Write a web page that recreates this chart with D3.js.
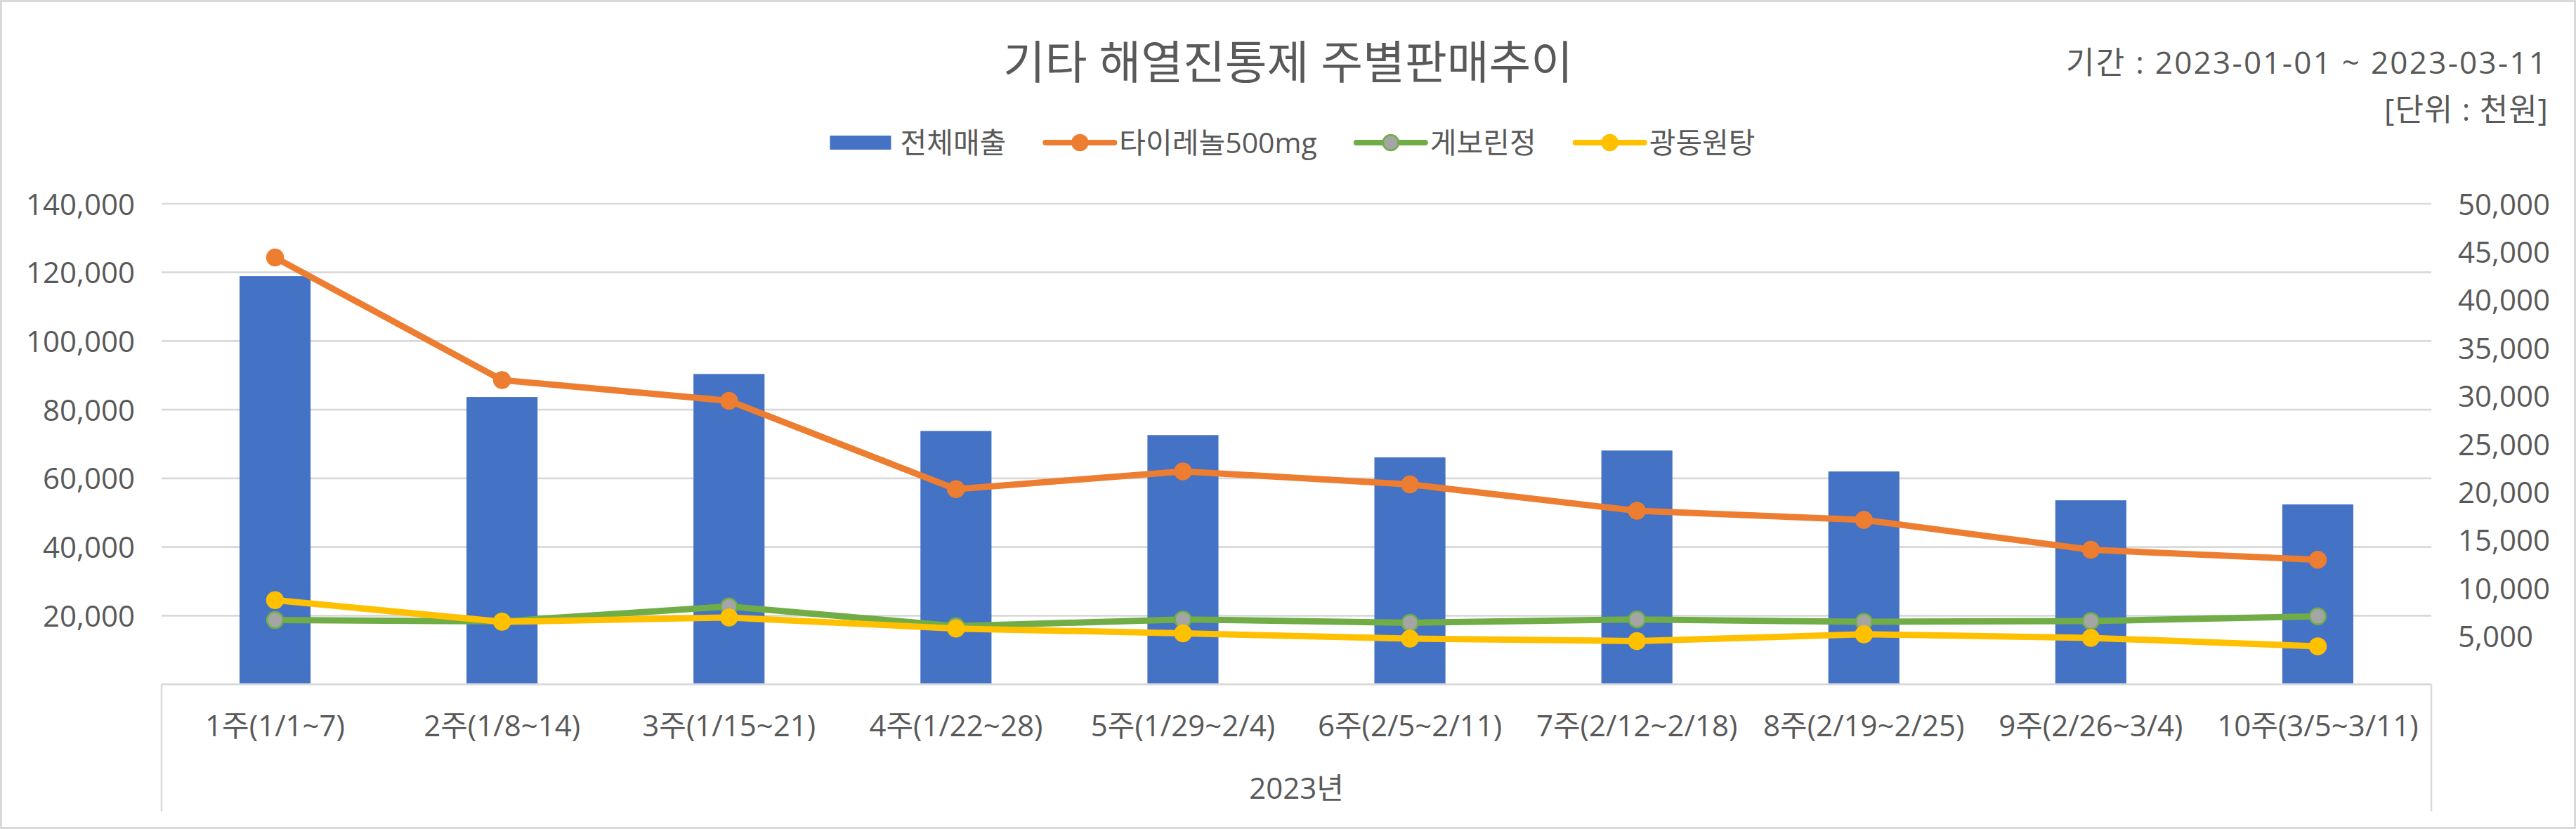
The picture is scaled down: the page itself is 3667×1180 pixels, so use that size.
<!DOCTYPE html>
<html>
<head>
<meta charset="utf-8">
<script src="https://cdn.jsdelivr.net/npm/d3@7"></script>
<style>
  body { margin: 0; background: #fff; }
  text { font-family: "Open Sans", "Noto Sans CJK KR", sans-serif; fill: #595959; }
</style>
</head>
<body>
<svg id="chart"></svg>
<script>
const width = 3667;
const height = 1180;

// data (천원)
const weeks = ["1주(1/1~7)", "2주(1/8~14)", "3주(1/15~21)", "4주(1/22~28)", "5주(1/29~2/4)",
               "6주(2/5~2/11)", "7주(2/12~2/18)", "8주(2/19~2/25)", "9주(2/26~3/4)", "10주(3/5~3/11)"];
const totalSales = [118900, 83700, 90400, 73800, 72600, 66100, 68100, 62000, 53600, 52400];
const tylenol = [44400, 31650, 29500, 20300, 22150, 20800, 18050, 17100, 14000, 12950];
const geborin = [6680, 6550, 8100, 6050, 6750, 6400, 6750, 6500, 6580, 7070];
const gwangdong = [8750, 6500, 6950, 5800, 5300, 4750, 4500, 5200, 4830, 3950];

const leftTicks = [20000, 40000, 60000, 80000, 100000, 120000, 140000];
const rightTicks = [5000, 10000, 15000, 20000, 25000, 30000, 35000, 40000, 45000, 50000];

const title = "기타 해열진통제 주별판매추이";
const period = "기간 : 2023-01-01 ~ 2023-03-11";
const unit = "[단위 : 천원]";
const yearLabel = "2023년";

const lineSeries = [
  { name: "타이레놀500mg", values: tylenol, color: "#ed7d31", fill: "#ed7d31" },
  { name: "게보린정", values: geborin, color: "#70ad47", fill: "#a5a5a5" },
  { name: "광동원탕", values: gwangdong, color: "#ffc000", fill: "#ffc000" }
];

const plot = { left: 230, right: 3461, top: 290, bottom: 974 };
const gridColor = "#d9d9d9";

const svg = d3.select("#chart")
    .attr("width", width)
    .attr("height", height);

// outer frame
svg.append("rect")
    .attr("x", 1.5).attr("y", 1.5)
    .attr("width", width - 3).attr("height", height - 3)
    .attr("fill", "#fff")
    .attr("stroke", gridColor)
    .attr("stroke-width", 3);

const x = d3.scaleBand()
    .domain(weeks)
    .range([plot.left, plot.right]);

const yLeft = d3.scaleLinear()
    .domain([0, 140000])
    .range([plot.bottom, plot.top]);

const yRight = d3.scaleLinear()
    .domain([0, 50000])
    .range([plot.bottom, plot.top]);

// gridlines
svg.append("g")
    .selectAll("line")
    .data(leftTicks)
    .enter().append("line")
    .attr("x1", plot.left).attr("x2", plot.right)
    .attr("y1", d => yLeft(d)).attr("y2", d => yLeft(d))
    .attr("stroke", gridColor)
    .attr("stroke-width", 2.7);

// left axis
const leftAxis = svg.append("g")
    .attr("transform", `translate(${plot.left},0)`)
    .call(d3.axisLeft(yLeft).tickValues(leftTicks).tickSize(0).tickPadding(38).tickFormat(d3.format(",")));
leftAxis.select(".domain").remove();
leftAxis.selectAll("text")
    .attr("dy", "0.36em")
    .style("font-size", "42px")
    .style("font-family", null);

// right axis
const rightAxis = svg.append("g")
    .attr("transform", `translate(${plot.right},0)`)
    .call(d3.axisRight(yRight).tickValues(rightTicks).tickSize(0).tickPadding(38).tickFormat(d3.format(",")));
rightAxis.select(".domain").remove();
rightAxis.selectAll("text")
    .attr("dy", "0.36em")
    .style("font-size", "42px")
    .style("font-family", null);

// bars
const barW = x.bandwidth() * 0.313;
svg.append("g")
    .selectAll("rect")
    .data(totalSales)
    .enter().append("rect")
    .attr("x", (d, i) => x(weeks[i]) + (x.bandwidth() - barW) / 2)
    .attr("y", d => yLeft(d))
    .attr("width", barW)
    .attr("height", d => plot.bottom - yLeft(d))
    .attr("fill", "#4472c4");

// category axis (two levels)
const catAxis = svg.append("g");
catAxis.append("line")
    .attr("x1", plot.left).attr("x2", plot.right)
    .attr("y1", plot.bottom).attr("y2", plot.bottom)
    .attr("stroke", gridColor).attr("stroke-width", 3);
[plot.left, plot.right].forEach(px => {
  catAxis.append("line")
      .attr("x1", px).attr("x2", px)
      .attr("y1", plot.bottom).attr("y2", 1155)
      .attr("stroke", gridColor).attr("stroke-width", 2.5);
});
catAxis.selectAll("text.week")
    .data(weeks)
    .enter().append("text")
    .attr("class", "week")
    .attr("x", d => x(d) + x.bandwidth() / 2)
    .attr("y", 1048)
    .attr("text-anchor", "middle")
    .style("font-size", "42px")
    .text(d => d);
catAxis.append("text")
    .attr("x", (plot.left + plot.right) / 2)
    .attr("y", 1137)
    .attr("text-anchor", "middle")
    .style("font-size", "42px")
    .text(yearLabel);

// lines + markers
const cx = i => x(weeks[i]) + x.bandwidth() / 2;
lineSeries.forEach(s => {
  const line = d3.line()
      .x((d, i) => cx(i))
      .y(d => yRight(d));
  const g = svg.append("g");
  g.append("path")
      .datum(s.values)
      .attr("d", line)
      .attr("fill", "none")
      .attr("stroke", s.color)
      .attr("stroke-width", 9)
      .attr("stroke-linejoin", "round")
      .attr("stroke-linecap", "round");
  g.selectAll("circle")
      .data(s.values)
      .enter().append("circle")
      .attr("cx", (d, i) => cx(i))
      .attr("cy", d => yRight(d))
      .attr("r", 11.5)
      .attr("fill", s.fill)
      .attr("stroke", s.color)
      .attr("stroke-width", 2.5);
});

// titles
svg.append("text")
    .attr("x", width / 2)
    .attr("y", 112)
    .attr("text-anchor", "middle")
    .style("font-size", "65px")
    .text(title);

svg.append("text")
    .attr("x", 3625)
    .attr("y", 105)
    .attr("text-anchor", "end")
    .attr("textLength", 684)
    .attr("lengthAdjust", "spacing")
    .style("font-size", "44px")
    .text(period);

svg.append("text")
    .attr("x", 3627)
    .attr("y", 172)
    .attr("text-anchor", "end")
    .attr("textLength", 233)
    .attr("lengthAdjust", "spacing")
    .style("font-size", "44px")
    .text(unit);

// legend
const legend = svg.append("g");
const legendY = 203;
let lx = 0;

const barKey = legend.append("g");
barKey.append("rect")
    .attr("x", 0).attr("y", legendY - 10)
    .attr("width", 87).attr("height", 20)
    .attr("fill", "#4472c4");
const barText = barKey.append("text")
    .attr("x", 100).attr("y", legendY + 15)
    .style("font-size", "41px")
    .text("전체매출");
lx = 100 + barText.node().getComputedTextLength() + 56;

lineSeries.forEach(s => {
  const k = legend.append("g").attr("transform", `translate(${lx},0)`);
  k.append("line")
      .attr("x1", 0).attr("x2", 98)
      .attr("y1", legendY).attr("y2", legendY)
      .attr("stroke", s.color).attr("stroke-width", 8)
      .attr("stroke-linecap", "round");
  k.append("circle")
      .attr("cx", 49).attr("cy", legendY)
      .attr("r", 11)
      .attr("fill", s.fill)
      .attr("stroke", s.color)
      .attr("stroke-width", 2.5);
  const t = k.append("text")
      .attr("x", 105).attr("y", legendY + 15)
      .style("font-size", "41px")
      .text(s.name);
  lx += 105 + t.node().getComputedTextLength() + 56;
});
const legendW = lx - 56;
legend.attr("transform", `translate(${1840 - legendW / 2},0)`);
</script>
</body>
</html>
